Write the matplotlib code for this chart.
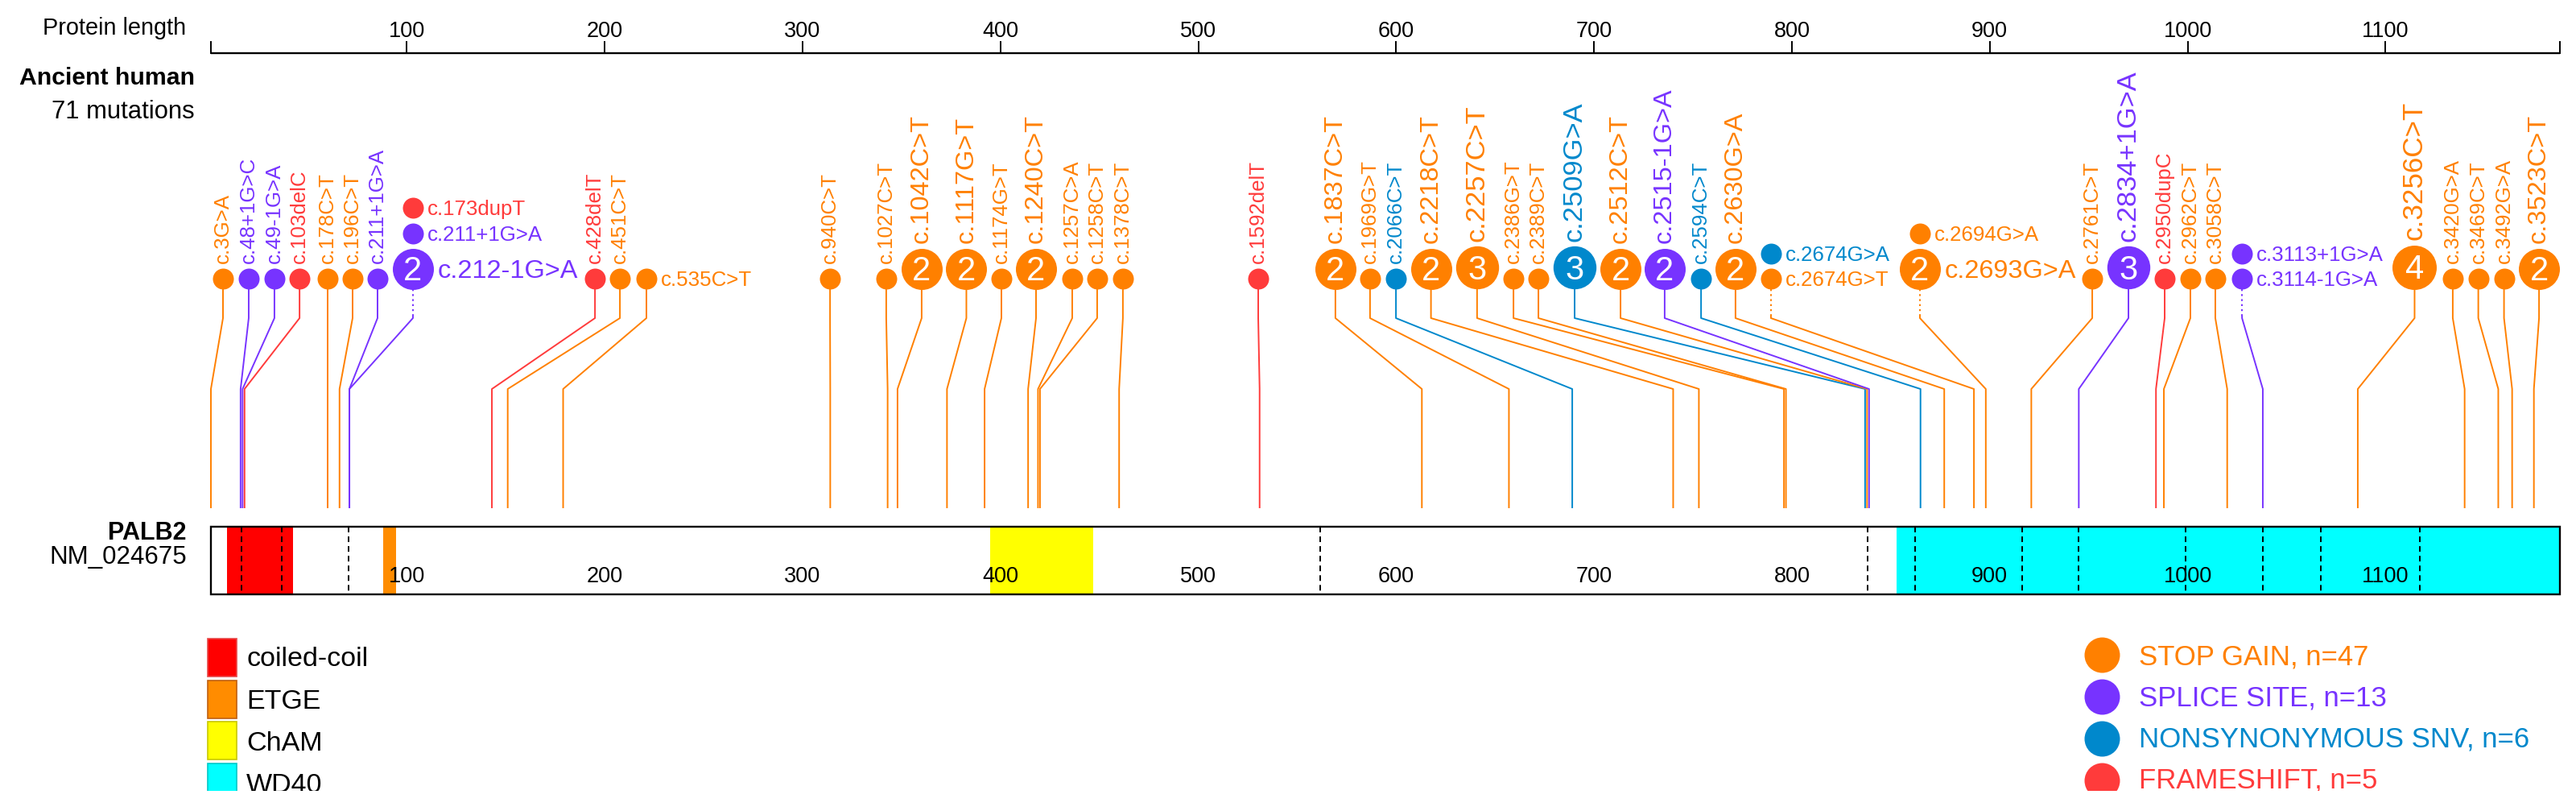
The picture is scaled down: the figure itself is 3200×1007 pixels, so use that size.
import matplotlib
matplotlib.use('Agg')
import matplotlib.pyplot as plt
from matplotlib.patches import Rectangle

plt.rcParams['font.family'] = ['Liberation Sans', 'DejaVu Sans']

# mutations, one entry per disc; in a stacked column the bottom disc comes first
names = ['c.3G>A', 'c.48+1G>C', 'c.49-1G>A', 'c.103delC', 'c.178C>T', 'c.196C>T', 'c.211+1G>A',
         'c.212-1G>A', 'c.211+1G>A', 'c.173dupT',
         'c.428delT', 'c.451C>T', 'c.535C>T', 'c.940C>T', 'c.1027C>T', 'c.1042C>T', 'c.1117G>T',
         'c.1174G>T', 'c.1240C>T', 'c.1257C>A', 'c.1258C>T', 'c.1378C>T', 'c.1592delT',
         'c.1837C>T', 'c.1969G>T', 'c.2066C>T', 'c.2218C>T', 'c.2257C>T', 'c.2386G>T', 'c.2389C>T',
         'c.2509G>A', 'c.2512C>T', 'c.2515-1G>A', 'c.2594C>T', 'c.2630G>A',
         'c.2674G>T', 'c.2674G>A', 'c.2693G>A', 'c.2694G>A',
         'c.2761C>T', 'c.2834+1G>A', 'c.2950dupC', 'c.2962C>T', 'c.3058C>T',
         'c.3114-1G>A', 'c.3113+1G>A',
         'c.3256C>T', 'c.3420G>A', 'c.3469C>T', 'c.3492G>A', 'c.3523C>T']
classes = ['N', 'L', 'L', 'F', 'N', 'N', 'L',
           'L', 'L', 'F',
           'F', 'N', 'N', 'N', 'N', 'N', 'N', 'N', 'N', 'N', 'N', 'N', 'F',
           'N', 'N', 'M', 'N', 'N', 'N', 'N', 'M', 'N', 'L', 'M', 'N',
           'N', 'M', 'N', 'N',
           'N', 'L', 'F', 'N', 'N',
           'L', 'L',
           'N', 'N', 'N', 'N', 'N']
counts = [1, 1, 1, 1, 1, 1, 1,
          2, 1, 1,
          1, 1, 1, 1, 1, 2, 2, 1, 2, 1, 1, 1, 1,
          2, 1, 1, 2, 3, 1, 1, 3, 2, 2, 1, 2,
          1, 1, 2, 1,
          1, 3, 1, 1, 1,
          1, 1,
          4, 1, 1, 1, 2]
aa_pos = [1, 16, 17, 18, 60, 66, 71,
          71, 71, 58,
          143, 151, 179, 314, 343, 348, 373, 392, 414, 419, 420, 460, 531,
          613, 657, 689, 740, 753, 796, 797, 837, 838, 839, 865, 877,
          892, 892, 898, 898,
          921, 945, 984, 988, 1020,
          1038, 1038,
          1086, 1140, 1157, 1164, 1175]
column = [0, 1, 2, 3, 4, 5, 6,
          7, 7, 7,
          8, 9, 10, 11, 12, 13, 14, 15, 16, 17, 18, 19, 20,
          21, 22, 23, 24, 25, 26, 27, 28, 29, 30, 31, 32,
          33, 33, 34, 34,
          35, 36, 37, 38, 39,
          40, 40,
          41, 42, 43, 44, 45]
# where each column of discs sits along the protein
column_pos = [7.1, 20.1, 33.1, 45.8, 60.0, 72.6, 85.2, 103.1,
              195.1, 207.7, 221.1, 313.9, 342.3, 360.2, 382.8, 400.5, 418.0, 436.3, 448.9, 461.9, 530.3,
              569.3, 586.8, 599.9, 617.6, 640.9, 659.3, 671.9, 690.2, 713.4, 735.7, 754.1, 771.5,
              789.4, 864.7,
              951.8, 970.1, 988.4, 1001.4, 1014.0, 1027.5,
              1114.7, 1134.0, 1146.9, 1159.9, 1177.6]
side_labels = ['c.535C>T']

protein_len = 1186
tick_values = [100, 200, 300, 400, 500, 600, 700, 800, 900, 1000, 1100]
exon_breaks = [16.3, 36.7, 70.7, 561.7, 838.3, 862.3, 916.3, 945.0, 999.0, 1038.0, 1067.3, 1117.3]

domain_names = ['coiled-coil', 'ETGE', 'ChAM', 'WD40']
domain_start = [9, 88, 395, 853]
domain_end = [42.5, 94.6, 446.8, 1186]
domain_colors = ['#ff0000', '#ff8c00', '#ffff00', '#00ffff']
domain_edges = ['#e84848', '#c06010', '#c8c800', '#00c8c8']

class_order = ['N', 'L', 'M', 'F']
class_names = {'N': 'STOP GAIN', 'L': 'SPLICE SITE', 'M': 'NONSYNONYMOUS SNV', 'F': 'FRAMESHIFT'}
class_colors = {'N': '#ff8000', 'L': '#7733ff', 'M': '#0088cc', 'F': '#ff3b3b'}

PT = 0.72  # points per pixel at dpi 100
radius = {1: 13, 2: 25.5, 3: 26.7, 4: 27.5}
label_pt = {1: 18.6, 2: 23.4, 3: 24.8, 4: 25.2}

fig = plt.figure(figsize=(32, 10.07), dpi=100)

# protein axes: x in amino acids, y in pixels from the top
px_per_aa = 2.458
pax = fig.add_axes([0, 0, 1, 1])
pax.set_xlim(1 - 262 / px_per_aa, 1 + (3200 - 262) / px_per_aa)
pax.set_ylim(1007, 0)
pax.axis('off')

# overlay in plain pixels for side texts and legends
ax = fig.add_axes([0, 0, 1, 1])
ax.set_xlim(0, 3200)
ax.set_ylim(1007, 0)
ax.axis('off')
ax.patch.set_visible(False)

# the drawn bar runs a hair past the last residue
bar_end = protein_len + 2

# top ruler
pax.plot([1, bar_end], [66, 66], color='black', lw=1.7, solid_capstyle='butt')
for t in [1] + tick_values + [bar_end]:
    pax.plot([t, t], [52, 66], color='black', lw=1.4)
for t in tick_values:
    pax.text(t, 45.7, str(t), ha='center', va='baseline', fontsize=19.5)

# protein bar with domains
pax.add_patch(Rectangle((1, 654), bar_end - 1, 84, facecolor='white', edgecolor='none', zorder=1))
for s, e, c in zip(domain_start, domain_end, domain_colors):
    if e >= protein_len:
        e = bar_end
    pax.add_patch(Rectangle((s, 654), e - s, 84, facecolor=c, edgecolor='none', zorder=2))
for b in exon_breaks:
    pax.plot([b, b], [654, 738], color='black', lw=1.4, dashes=(3.6, 2.6), zorder=3)
pax.add_patch(Rectangle((1, 654), bar_end - 1, 84, facecolor='none', edgecolor='black', lw=1.7, zorder=4))
for t in tick_values:
    pax.text(t, 722.7, str(t), ha='center', va='baseline', fontsize=19.5, zorder=5)

# discs, labels and stems, one column at a time
for c, cx in enumerate(column_pos):
    members = [i for i in range(len(names)) if column[i] == c]
    stacked = len(members) > 1
    base = members[0]
    col = class_colors[classes[base]]

    # stem: short drop, slant to the real position, then down to the bar
    if stacked:
        pax.plot([cx, cx], [359, 393], color=col, lw=1.4, dashes=(1.2, 2.0))
        pax.plot([cx, cx, aa_pos[base], aa_pos[base]], [393, 395, 483, 630], color=col, lw=1.4)
    else:
        pax.plot([cx, cx, aa_pos[base], aa_pos[base]], [350, 395, 483, 630], color=col, lw=1.4)

    bottom = 359
    for i in members:
        r = radius[counts[i]]
        yc = bottom - r
        color = class_colors[classes[i]]
        pax.scatter([cx], [yc], s=(2 * r * PT) ** 2, color=color, linewidths=0, zorder=6)
        if counts[i] > 1:
            cap = 0.716 * 30 / PT
            pax.text(cx, yc + cap / 2, str(counts[i]), ha='center', va='baseline',
                     color='white', fontsize=30, zorder=7)
        fs = label_pt[counts[i]]
        if stacked or names[i] in side_labels:
            cap = 0.716 * fs / PT
            pax.annotate(names[i], (cx, yc + cap / 2), xytext=((r + 5) * PT, 0),
                         textcoords='offset points', ha='left', va='baseline',
                         fontsize=fs, color=color)
        else:
            pax.annotate(names[i], (cx, yc - r), xytext=(0, 6 * PT),
                         textcoords='offset points', rotation=90, ha='center', va='bottom',
                         fontsize=fs, color=color)
        bottom = yc - r - 5.5

# side texts
ax.text(231, 43.3, 'Protein length', ha='right', va='baseline', fontsize=20.8)
ax.text(242, 105, 'Ancient human', ha='right', va='baseline', fontsize=21.8, fontweight='bold')
ax.text(242, 146.7, '%d mutations' % sum(counts), ha='right', va='baseline', fontsize=22.3)
ax.text(232, 670, 'PALB2', ha='right', va='baseline', fontsize=22, fontweight='bold')
ax.text(232, 700, 'NM_024675', ha='right', va='baseline', fontsize=22.5)

# domain legend
for k, (n, c, ec) in enumerate(zip(domain_names, domain_colors, domain_edges)):
    ax.add_patch(Rectangle((258, 793 + 51.7 * k), 36, 47, facecolor=c, edgecolor=ec, lw=1.2))
    ax.text(306, 827 + 52.5 * k, n, ha='left', va='baseline', fontsize=24.5)

# mutation class legend
for k, m in enumerate(class_order):
    n = sum(counts[i] for i in range(len(names)) if classes[i] == m)
    ax.scatter([2611], [813 + 52 * k], s=(44 * PT) ** 2, color=class_colors[m], linewidths=0)
    ax.text(2657, 825 + 51.3 * k, '%s, n=%d' % (class_names[m], n), ha='left', va='baseline',
            fontsize=25, color=class_colors[m])

# the source picture is cut off near the bottom edge
ax.add_patch(Rectangle((0, 982), 3200, 30, facecolor='white', edgecolor='none', zorder=50))

fig.savefig('out.png', dpi=100)
